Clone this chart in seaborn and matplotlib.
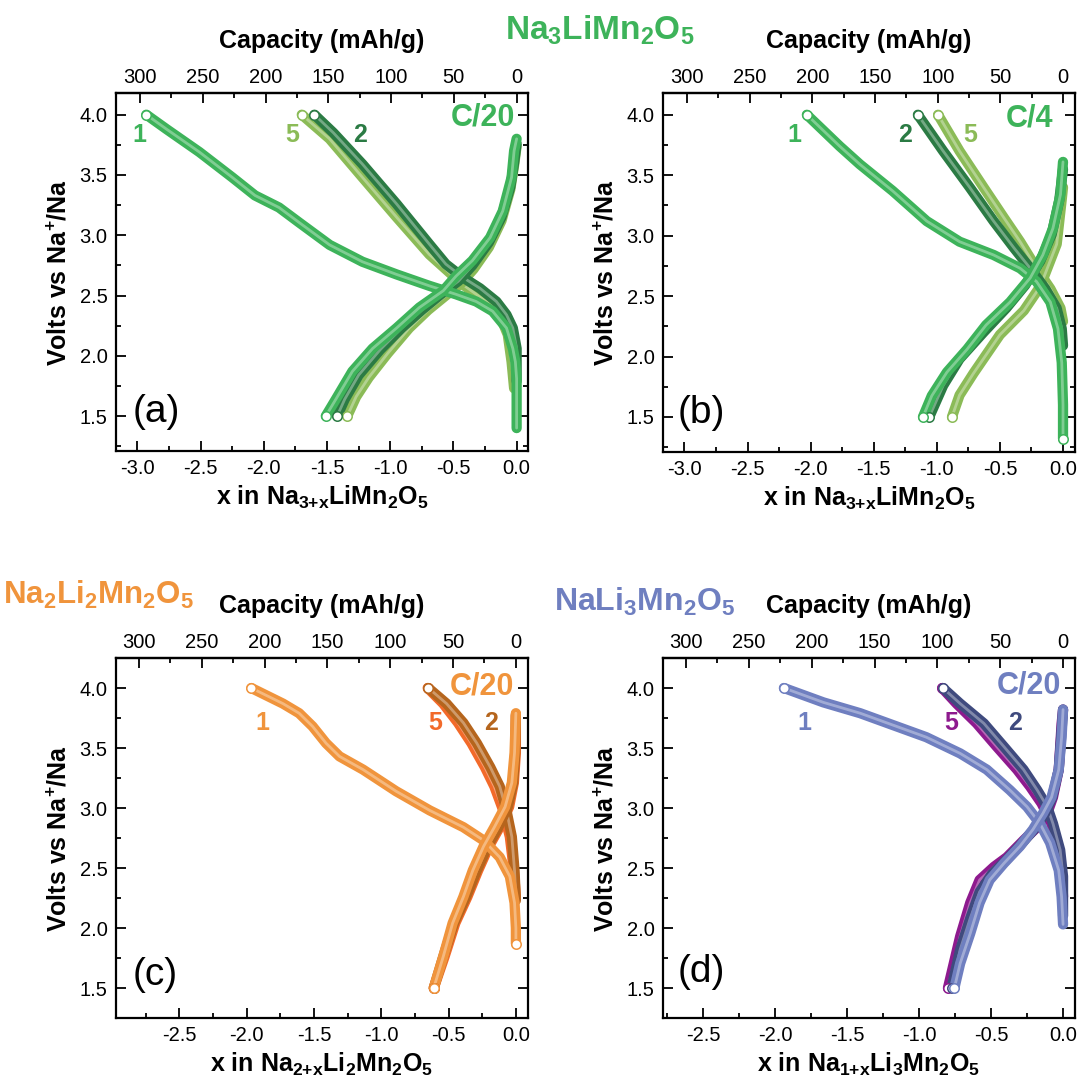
import numpy as np
import pandas as pd
import matplotlib
matplotlib.use("Agg")
import matplotlib.pyplot as plt
from matplotlib.ticker import MultipleLocator
import seaborn as sns

sns.set_style("ticks")
plt.rcParams["font.family"] = ["Liberation Sans", "DejaVu Sans"]
plt.rcParams["mathtext.fontset"] = "custom"
plt.rcParams["mathtext.default"] = "regular"
for k_ in ["text.color", "axes.labelcolor", "xtick.color", "ytick.color", "axes.edgecolor"]:
    plt.rcParams[k_] = "black"

# ---------------- data (x in formula, volts) ----------------
# (a) Na3LiMn2O5, C/20
a1_chg_x = [0.0, 0.0, -0.01, -0.03, -0.08, -0.19, -0.32, -0.48, -0.69, -0.95, -1.22, -1.48, -1.72, -1.88, -2.07, -2.25, -2.51, -2.77, -2.93]
a1_chg_v = [1.40, 1.81, 1.95, 2.06, 2.23, 2.37, 2.45, 2.51, 2.58, 2.675, 2.78, 2.92, 3.105, 3.23, 3.33, 3.48, 3.69, 3.88, 4.0]
a2_chg_x = [0.0, 0.0, -0.03, -0.08, -0.16, -0.29, -0.425, -0.56, -0.69, -0.95, -1.22, -1.45, -1.60]
a2_chg_v = [1.79, 2.06, 2.23, 2.34, 2.45, 2.56, 2.65, 2.76, 2.925, 3.26, 3.59, 3.85, 4.0]
a5_chg_x = [-0.02, -0.04, -0.07, -0.135, -0.24, -0.425, -0.69, -0.95, -1.22, -1.48, -1.70]
a5_chg_v = [1.73, 1.95, 2.175, 2.34, 2.45, 2.59, 2.84, 3.15, 3.48, 3.80, 4.0]
a1_dis_x = [0.0, -0.02, -0.04, -0.11, -0.21, -0.35, -0.48, -0.58, -0.77, -0.95, -1.14, -1.30, -1.43, -1.51]
a1_dis_v = [3.80, 3.70, 3.48, 3.20, 2.98, 2.79, 2.66, 2.54, 2.40, 2.23, 2.06, 1.87, 1.64, 1.50]
a2_dis_x = [0.0, -0.02, -0.05, -0.12, -0.22, -0.35, -0.46, -0.60, -0.75, -0.91, -1.08, -1.25, -1.36, -1.42]
a2_dis_v = [3.76, 3.60, 3.40, 3.15, 2.94, 2.75, 2.62, 2.51, 2.38, 2.23, 2.05, 1.84, 1.64, 1.50]
a5_dis_x = [0.0, -0.02, -0.05, -0.12, -0.22, -0.34, -0.44, -0.56, -0.70, -0.85, -1.02, -1.17, -1.27, -1.34]
a5_dis_v = [3.74, 3.58, 3.38, 3.12, 2.90, 2.72, 2.60, 2.50, 2.38, 2.23, 2.02, 1.82, 1.66, 1.50]

# (b) Na3LiMn2O5, C/4
b1_chg_x = [0.0, 0.0, -0.01, -0.04, -0.10, -0.21, -0.34, -0.55, -0.82, -1.08, -1.35, -1.61, -1.77, -2.03]
b1_chg_v = [1.32, 1.60, 1.95, 2.23, 2.45, 2.62, 2.73, 2.84, 2.95, 3.12, 3.37, 3.59, 3.74, 4.0]
b2_chg_x = [0.0, -0.01, -0.05, -0.14, -0.26, -0.39, -0.55, -0.74, -0.95, -1.15]
b2_chg_v = [2.09, 2.23, 2.40, 2.56, 2.73, 2.90, 3.12, 3.40, 3.70, 4.0]
b5_chg_x = [0.0, -0.02, -0.10, -0.21, -0.34, -0.47, -0.63, -0.82, -0.99]
b5_chg_v = [2.29, 2.40, 2.56, 2.73, 2.95, 3.15, 3.40, 3.70, 4.0]
b1_dis_x = [0.0, -0.02, -0.08, -0.16, -0.26, -0.42, -0.61, -0.76, -0.92, -1.04, -1.11]
b1_dis_v = [3.61, 3.34, 3.06, 2.84, 2.65, 2.45, 2.26, 2.06, 1.87, 1.675, 1.50]
b2_dis_x = [0.0, -0.03, -0.09, -0.18, -0.30, -0.45, -0.63, -0.82, -0.95, -1.06]
b2_dis_v = [3.55, 3.29, 3.01, 2.79, 2.59, 2.40, 2.20, 1.98, 1.76, 1.50]
b5_dis_x = [0.0, -0.01, -0.05, -0.18, -0.31, -0.50, -0.71, -0.82, -0.88]
b5_dis_v = [3.40, 3.30, 2.93, 2.58, 2.38, 2.18, 1.86, 1.68, 1.50]

# (c) Na2Li2Mn2O5, C/20
c1_chg_x = [0.0, 0.0, -0.01, -0.045, -0.12, -0.24, -0.39, -0.64, -0.89, -1.135, -1.31, -1.41, -1.51, -1.61, -1.73, -1.965]
c1_chg_v = [1.87, 2.0, 2.21, 2.43, 2.59, 2.73, 2.84, 2.98, 3.14, 3.32, 3.43, 3.54, 3.68, 3.79, 3.87, 4.0]
c2_chg_x = [0.0, -0.01, -0.03, -0.07, -0.12, -0.19, -0.29, -0.39, -0.515, -0.65]
c2_chg_v = [2.23, 2.48, 2.76, 2.98, 3.18, 3.34, 3.54, 3.71, 3.87, 4.0]
c5_chg_x = [0.0, -0.015, -0.045, -0.094, -0.16, -0.23, -0.33, -0.43, -0.54, -0.655]
c5_chg_v = [2.26, 2.48, 2.76, 2.98, 3.18, 3.34, 3.54, 3.71, 3.87, 4.0]
c1_dis_x = [0.0, -0.01, -0.03, -0.08, -0.16, -0.24, -0.32, -0.39, -0.47, -0.54, -0.61]
c1_dis_v = [3.79, 3.46, 3.21, 3.01, 2.84, 2.68, 2.48, 2.26, 2.04, 1.76, 1.50]
c2_dis_x = [0.0, -0.005, -0.02, -0.06, -0.13, -0.21, -0.29, -0.37, -0.46, -0.54, -0.61]
c2_dis_v = [3.78, 3.46, 3.21, 3.01, 2.84, 2.68, 2.48, 2.26, 2.04, 1.76, 1.50]
c5_dis_x = [0.0, 0.0, -0.015, -0.05, -0.12, -0.20, -0.28, -0.36, -0.45, -0.53, -0.61]
c5_dis_v = [3.77, 3.46, 3.21, 3.01, 2.84, 2.68, 2.48, 2.26, 2.04, 1.76, 1.50]

# (d) NaLi3Mn2O5, C/20
d1_chg_x = [0.0, -0.01, -0.03, -0.09, -0.16, -0.25, -0.37, -0.53, -0.715, -0.95, -1.18, -1.41, -1.665, -1.94]
d1_chg_v = [2.03, 2.26, 2.48, 2.71, 2.87, 3.01, 3.15, 3.32, 3.455, 3.59, 3.69, 3.79, 3.88, 4.0]
d2_chg_x = [0.0, 0.0, -0.02, -0.07, -0.11, -0.18, -0.275, -0.41, -0.55, -0.715, -0.835]
d2_chg_v = [2.10, 2.43, 2.65, 2.87, 3.01, 3.15, 3.32, 3.51, 3.705, 3.87, 4.0]
d5_chg_x = [0.0, -0.01, -0.04, -0.09, -0.15, -0.23, -0.32, -0.46, -0.60, -0.74, -0.84]
d5_chg_v = [2.26, 2.48, 2.71, 2.90, 3.04, 3.18, 3.32, 3.51, 3.705, 3.87, 4.0]
d1_dis_x = [0.0, -0.01, -0.03, -0.08, -0.14, -0.21, -0.30, -0.41, -0.51, -0.58, -0.645, -0.715, -0.755]
d1_dis_v = [3.82, 3.59, 3.32, 3.09, 2.955, 2.82, 2.68, 2.54, 2.40, 2.21, 1.955, 1.705, 1.50]
d2_dis_x = [0.0, -0.01, -0.03, -0.075, -0.125, -0.195, -0.29, -0.40, -0.495, -0.58, -0.645, -0.715, -0.775]
d2_dis_v = [3.82, 3.65, 3.32, 3.09, 2.955, 2.83, 2.70, 2.56, 2.45, 2.30, 2.08, 1.82, 1.50]
d5_dis_x = [0.0, -0.01, -0.03, -0.07, -0.11, -0.18, -0.275, -0.39, -0.48, -0.58, -0.645, -0.715, -0.80]
d5_dis_v = [3.82, 3.705, 3.32, 3.09, 2.955, 2.84, 2.73, 2.59, 2.51, 2.40, 2.21, 1.93, 1.50]

# capacity per unit x (mAh/g)
cap_per_x = {"a": 100.7, "b": 100.7, "c": 107.2, "d": 114.5}

green = {"1": "#3db35a", "2": "#2b7b44", "5": "#8bbb57"}
orange = {"1": "#f0943c", "2": "#b5651d", "5": "#f26a2a"}
blue = {"1": "#6f7fc0", "2": "#3f4a7e", "5": "#8e1a8e"}

panels = {
    "a": dict(rect=[116, 93, 412, 358], xlim=(-3.17, 0.09), ylim=(1.21, 4.18), colors=green, rate="C/20",
              curves={"5": [(a5_chg_x, a5_chg_v), (a5_dis_x, a5_dis_v)],
                      "2": [(a2_chg_x, a2_chg_v), (a2_dis_x, a2_dis_v)],
                      "1": [(a1_chg_x, a1_chg_v), (a1_dis_x, a1_dis_v)]},
              labels={"1": (-2.985, 3.83), "5": (-1.776, 3.83), "2": (-1.24, 3.83)},
              rate_pos=(-0.01, 3.975), letter=(0.099, 0.11), first_dot=False,
              xlabel="x in Na$_{3{+}x}$LiMn$_2$O$_5$"),
    "b": dict(rect=[663, 93, 412, 359], xlim=(-3.17, 0.095), ylim=(1.21, 4.18), colors=green, rate="C/4",
              curves={"5": [(b5_chg_x, b5_chg_v), (b5_dis_x, b5_dis_v)],
                      "2": [(b2_chg_x, b2_chg_v), (b2_dis_x, b2_dis_v)],
                      "1": [(b1_chg_x, b1_chg_v), (b1_dis_x, b1_dis_v)]},
              labels={"1": (-2.127, 3.83), "2": (-1.248, 3.83), "5": (-0.738, 3.83)},
              rate_pos=(-0.08, 3.97), letter=(0.094, 0.108), first_dot=True,
              xlabel="x in Na$_{3{+}x}$LiMn$_2$O$_5$"),
    "c": dict(rect=[116, 658, 412, 360], xlim=(-2.97, 0.09), ylim=(1.25, 4.25), colors=orange, rate="C/20",
              curves={"5": [(c5_chg_x, c5_chg_v), (c5_dis_x, c5_dis_v)],
                      "2": [(c2_chg_x, c2_chg_v), (c2_dis_x, c2_dis_v)],
                      "1": [(c1_chg_x, c1_chg_v), (c1_dis_x, c1_dis_v)]},
              labels={"1": (-1.883, 3.706), "5": (-0.602, 3.706), "2": (-0.181, 3.706)},
              rate_pos=(-0.01, 4.01), letter=(0.095, 0.12), first_dot=True,
              xlabel="x in Na$_{2{+}x}$Li$_2$Mn$_2$O$_5$"),
    "d": dict(rect=[663, 658, 412, 360], xlim=(-2.78, 0.083), ylim=(1.25, 4.25), colors=blue, rate="C/20",
              curves={"5": [(d5_chg_x, d5_chg_v), (d5_dis_x, d5_dis_v)],
                      "2": [(d2_chg_x, d2_chg_v), (d2_dis_x, d2_dis_v)],
                      "1": [(d1_chg_x, d1_chg_v), (d1_dis_x, d1_dis_v)]},
              labels={"1": (-1.80, 3.706), "5": (-0.78, 3.706), "2": (-0.333, 3.706)},
              rate_pos=(-0.01, 4.02), letter=(0.094, 0.129), first_dot=False,
              xlabel="x in Na$_{1{+}x}$Li$_3$Mn$_2$O$_5$"),
}

W, H = 1080, 1086
fig = plt.figure(figsize=(W / 100, H / 100), dpi=100)


def draw_curve(ax, xs, vs, color, start_dot=False):
    df = pd.DataFrame({"x": xs, "v": vs})
    sns.lineplot(data=df, x="x", y="v", sort=False, estimator=None, color=color,
                 linewidth=7.4, solid_capstyle="round", solid_joinstyle="round", ax=ax)
    sns.lineplot(data=df, x="x", y="v", sort=False, estimator=None, color="white",
                 linewidth=2.0, alpha=0.35, solid_capstyle="round", solid_joinstyle="round", ax=ax)
    ax.plot(df["x"].iloc[-1], df["v"].iloc[-1], "o", mfc="white", mec=color, ms=6.8, mew=1.1, zorder=5)
    if start_dot:
        ax.plot(df["x"].iloc[0], df["v"].iloc[0], "o", mfc="white", mec=color, ms=6.8, mew=1.1, zorder=5)


for key, p in panels.items():
    l, t, w, h = p["rect"]
    ax = fig.add_axes([l / W, 1 - (t + h) / H, w / W, h / H])
    cols = p["colors"]
    for cyc, pair in p["curves"].items():
        for i, (xs, vs) in enumerate(pair):
            draw_curve(ax, xs, vs, cols[cyc], start_dot=(p["first_dot"] and cyc == "1" and i == 0))
    ax.set_xlim(*p["xlim"])
    ax.set_ylim(*p["ylim"])
    ax.xaxis.set_major_locator(MultipleLocator(0.5))
    ax.xaxis.set_minor_locator(MultipleLocator(0.25))
    ax.yaxis.set_major_locator(MultipleLocator(0.5))
    ax.yaxis.set_minor_locator(MultipleLocator(0.25))
    ax.xaxis.set_major_formatter(matplotlib.ticker.FormatStrFormatter("%.1f"))
    ax.yaxis.set_major_formatter(matplotlib.ticker.FormatStrFormatter("%.1f"))
    ax.tick_params(which="both", direction="in", top=False, right=True, width=1.3, labelsize=14.5)
    ax.tick_params(which="major", length=7, pad=6)
    ax.tick_params(which="minor", length=3.5)
    for s in ax.spines.values():
        s.set_linewidth(1.6)
    ax.set_xlabel(p["xlabel"], fontsize=18, fontweight="bold", labelpad=4)
    ax.set_ylabel("Volts vs Na$^{+}$/Na", fontsize=18, fontweight="bold", labelpad=6)

    k = cap_per_x[key]
    sec = ax.secondary_xaxis("top", functions=(lambda x, k=k: -x * k, lambda c, k=k: -c / k))
    sec.set_xticks([300, 250, 200, 150, 100, 50, 0])
    sec.xaxis.set_minor_locator(MultipleLocator(25))
    sec.tick_params(which="both", direction="in", width=1.3, labelsize=14.5)
    sec.tick_params(which="major", length=7, pad=4)
    sec.tick_params(which="minor", length=3.5)
    sec.spines["top"].set_linewidth(1.6)
    sec.set_xlabel("Capacity (mAh/g)", fontsize=18, fontweight="bold", labelpad=15)

    for cyc, (lx, ly) in p["labels"].items():
        ax.text(lx, ly, cyc, color=cols[cyc], fontsize=18, fontweight="bold", ha="center", va="center")
    ax.text(*p["rate_pos"], p["rate"], color=cols["1"], fontsize=22, fontweight="bold", ha="right", va="center")
    ax.text(*p["letter"], "(" + key + ")", transform=ax.transAxes, fontsize=28, ha="center", va="center")

fig.text(600 / W, 1 - 30 / H, "Na$_3$LiMn$_2$O$_5$", color=green["1"], fontsize=24, fontweight="bold",
         ha="center", va="center")
fig.text(99 / W, 1 - 595 / H, "Na$_2$Li$_2$Mn$_2$O$_5$", color=orange["1"], fontsize=22.5, fontweight="bold",
         ha="center", va="center")
fig.text(645 / W, 1 - 602 / H, "NaLi$_3$Mn$_2$O$_5$", color=blue["1"], fontsize=23, fontweight="bold",
         ha="center", va="center")

fig.savefig("out.png", dpi=100)
